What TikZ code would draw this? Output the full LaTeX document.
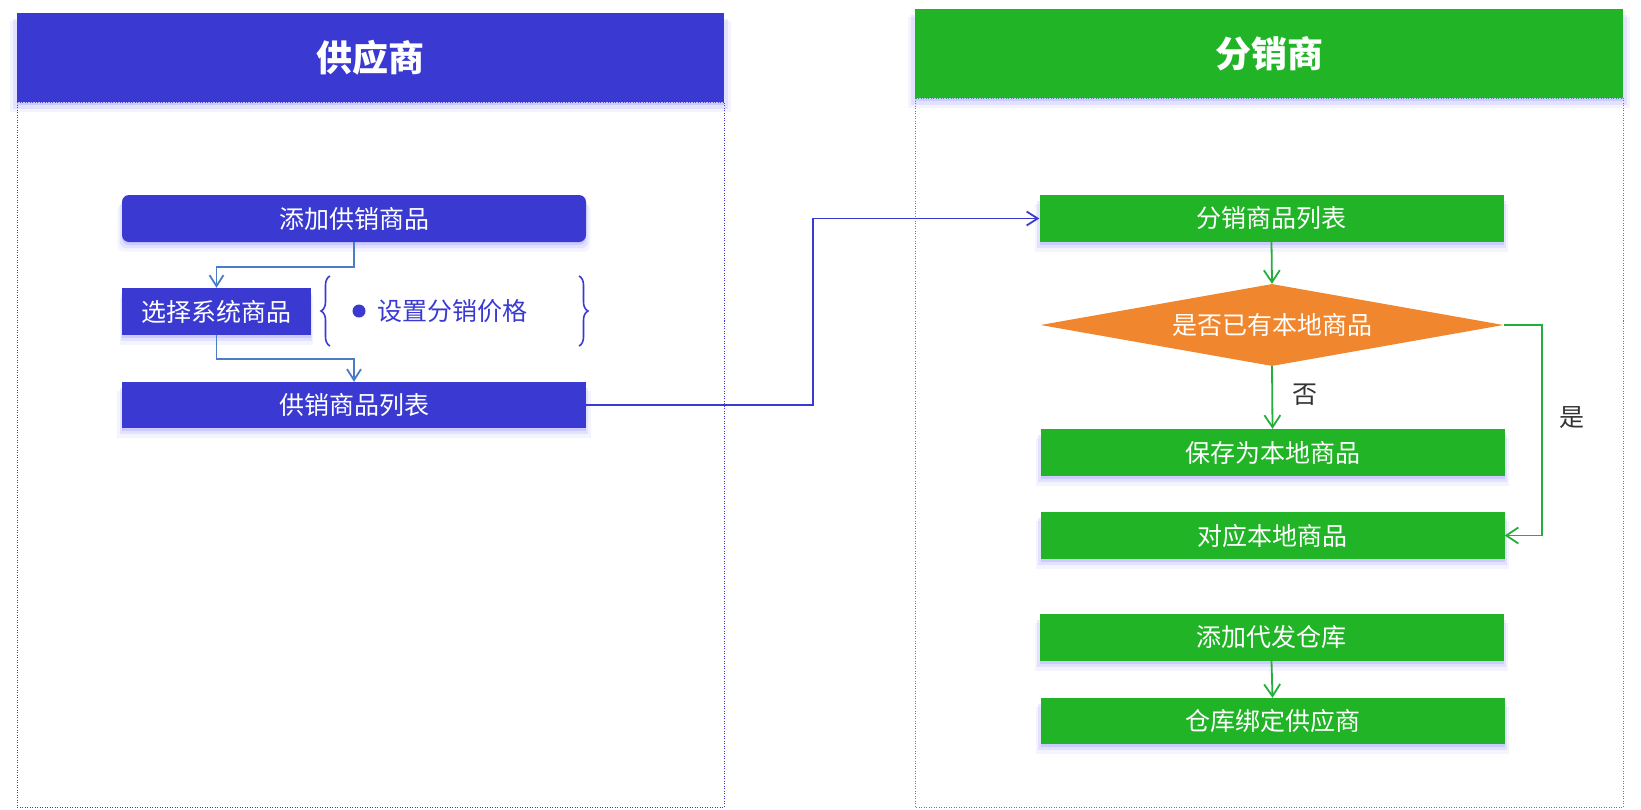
\documentclass[tikz,border=0pt]{standalone}
\usepackage{fontspec}
\setmainfont{Noto Sans CJK SC}
\usepackage{tikz}
\usetikzlibrary{shapes.geometric, arrows.meta, positioning, calc, shadows, decorations.pathreplacing}
\definecolor{supBlue}{HTML}{3A3AD3}
\definecolor{disGreen}{HTML}{20B426}
\definecolor{judgeOrange}{HTML}{F0862E}
\definecolor{linkBlue}{HTML}{4A7CC8}
\definecolor{linkGreen}{HTML}{24AE3E}
\definecolor{noteGray}{HTML}{333333}
\tikzset{
    soft_shadow/.style={
        drop shadow={shadow xshift=0pt, shadow yshift=-3pt, fill=blue!60, opacity=0.18},
        drop shadow={shadow xshift=0pt, shadow yshift=-6pt, shadow scale=1.01, fill=blue!60, opacity=0.13},
        drop shadow={shadow xshift=0pt, shadow yshift=-9pt, shadow scale=1.02, fill=blue!60, opacity=0.07}
    },
    head_sup/.style={
        rectangle, fill=supBlue, text=white, minimum width=707pt, minimum height=89pt,
        font=\fontsize{36}{40}\selectfont\bfseries, soft_shadow
    },
    head_dis/.style={
        head_sup, fill=disGreen
    },
    frame_sup/.style={
        draw=supBlue, line width=1pt, dash pattern=on 1pt off 1.5pt
    },
    frame_dis/.style={
        draw=disGreen, line width=1pt, dash pattern=on 1pt off 1.5pt
    },
    box_sup/.style={
        rectangle, fill=supBlue, text=white, minimum height=47pt, inner sep=0pt,
        font=\fontsize{25}{29}\selectfont, soft_shadow
    },
    box_dis/.style={
        box_sup, fill=disGreen, minimum width=464pt
    },
    judge_dis/.style={
        diamond, fill=judgeOrange, text=white, aspect=5.65, inner sep=0pt,
        minimum width=463pt, minimum height=82pt,
        font=\fontsize{25}{29}\selectfont
    },
    flow_sup/.style={
        -{Straight Barb[length=11pt, width=14pt]}, draw=linkBlue, line width=1.8pt
    },
    flow_link/.style={
        -{Straight Barb[length=11pt, width=14pt]}, draw=supBlue, line width=1.8pt
    },
    flow_dis/.style={
        -{Straight Barb[length=12pt, width=16pt]}, draw=linkGreen, line width=1.8pt
    },
    brace_line/.style={
        draw=supBlue, line width=1.6pt, decorate, decoration={brace, amplitude=9pt}
    },
    tag/.style={
        text=noteGray, font=\fontsize{25}{29}\selectfont
    }
}

\begin{document}
\begin{tikzpicture}[x=1pt, y=-1pt]
    \useasboundingbox (0,0) rectangle (1641,809);

    % Frames (dotted containers)
    \draw[frame_sup] (17,102) rectangle (724,807);
    \draw[frame_dis] (915,98) rectangle (1623,807);

    % Headers
    \node[head_sup] (hsup) at (370.5,57.5) {供应商};
    \node[head_dis, minimum width=708pt] (hdis) at (1269,53.5) {分销商};

    % Supplier column
    \node[box_sup, minimum width=464pt, rounded corners=7pt] (add) at (354,218.5) {添加供销商品};
    \node[box_sup, minimum width=189pt] (pick) at (216.5,311.5) {选择系统商品};
    \node[box_sup, minimum width=464pt, minimum height=46pt] (suplist) at (354,405) {供销商品列表};

    % Price note with braces
    \fill[supBlue] (359,311) circle (6.5);
    \node[anchor=west, inner sep=0pt, text=supBlue, font=\fontsize{25}{29}\selectfont] (price) at (377,311) {设置分销价格};
    \draw[brace_line] (330,346) -- (330,276);
    \draw[brace_line] (579,276) -- (579,346);

    % Distributor column
    \node[box_dis] (dislist) at (1271.5,218.5) {分销商品列表};
    \node[judge_dis] (judge) at (1272,325) {是否已有本地商品};
    \node[box_dis] (save) at (1272.5,452.5) {保存为本地商品};
    \node[box_dis] (match) at (1272.5,535.5) {对应本地商品};
    \node[box_dis] (wh) at (1271.5,637.5) {添加代发仓库};
    \node[box_dis, minimum height=46pt] (bind) at (1272.5,721) {仓库绑定供应商};

    % Supplier flow
    \draw[flow_sup] (add.south) -- ++(0,25) -| (pick.north);
    \draw[flow_sup] (pick.south) -- ++(0,24) -| (suplist.north);

    % Supplier -> Distributor
    \draw[flow_link] (suplist.east) -- ++(227,0) |- (dislist.west);

    % Distributor flow
    \draw[flow_dis] (dislist.south) -- (judge.north);
    \draw[flow_dis] (judge.south) -- node[tag, right=16pt, pos=0.45] {否} (save.north);
    \draw[flow_dis] (judge.east) -- ++(38,0) |- node[tag, right=14pt, pos=0.22] {是} (match.east);
    \draw[flow_dis] (wh.south) -- (bind.north);
\end{tikzpicture}
\end{document}
